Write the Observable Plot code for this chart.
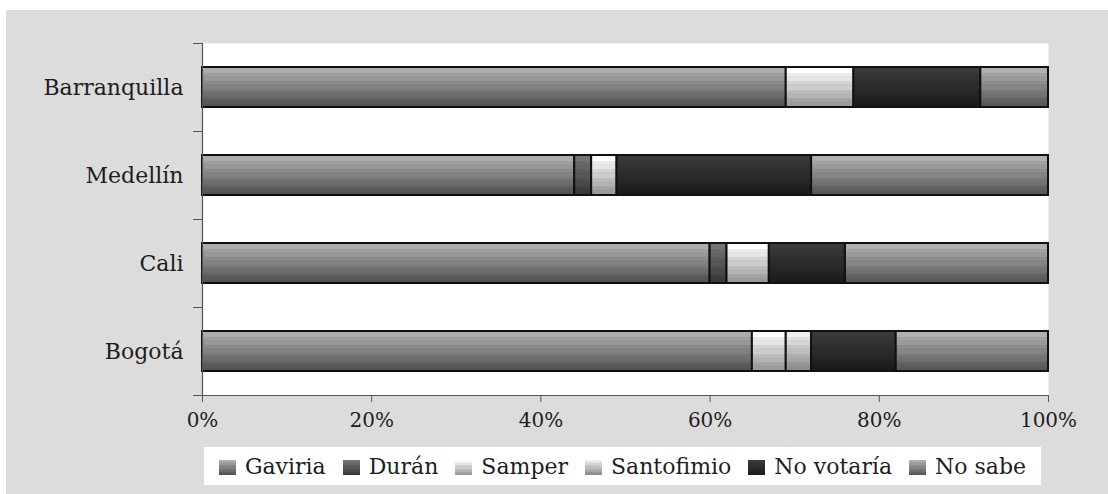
<!DOCTYPE html>
<html>
<head>
<meta charset="utf-8">
<script src="https://cdn.jsdelivr.net/npm/d3@7"></script>
<script src="https://cdn.jsdelivr.net/npm/@observablehq/plot@0.6"></script>
<style>
  body { margin: 0; background: #ffffff; font-family: "DejaVu Serif", serif; }
  #panel { position: absolute; left: 6px; top: 10px; width: 1102px; height: 484px; background: #dcdcdc; }
  #chart { position: absolute; left: 0; top: 0; }
  #legend {
    position: absolute; left: 198px; top: 437px; width: 837px; height: 38px;
    background: #ffffff; display: flex; align-items: center; justify-content: center;
    gap: 17px; font-size: 22px; color: #1e1e1e;
  }
  #legend .item { display: flex; align-items: center; gap: 9px; }
  #legend .sw { width: 17px; height: 15px; margin-top: 3px; }
</style>
</head>
<body>
<div id="panel">
  <div id="chart"></div>
  <div id="legend"></div>
</div>
<script>
// Voting intention by city (percent of respondents)
const cities = ["Barranquilla", "Medellín", "Cali", "Bogotá"];
const series = ["Gaviria", "Durán", "Samper", "Santofimio", "No votaría", "No sabe"];

const gaviria    = [69, 44, 60, 65];
const duran      = [0, 2, 2, 0];
const samper     = [8, 3, 5, 4];
const santofimio = [0, 0, 0, 3];
const noVotaria  = [15, 23, 9, 10];
const noSabe     = [8, 28, 24, 18];

const xTicks = [0, 20, 40, 60, 80, 100];

// Shaded fills, light at the top and dark at the bottom, one per series
const shades = [
  ["#adadad", "#505050"],
  ["#747474", "#363636"],
  ["#fbfbfb", "#949494"],
  ["#ececec", "#888888"],
  ["#3a3a3a", "#1b1b1b"],
  ["#b0b0b0", "#545454"]
];

function bandStops([top, bottom]) {
  const n = 14, mix = d3.interpolateRgb(top, bottom), out = [];
  for (let k = 0; k < n; k++) {
    const c = d3.color(mix(k / (n - 1)));
    const c2 = k % 3 === 1 ? c.brighter(0.12) : c;
    out.push([k / n, c2.formatHex()], [(k + 1) / n, c2.formatHex()]);
  }
  return out;
}

const columns = [gaviria, duran, samper, santofimio, noVotaria, noSabe];
const rows = [];
cities.forEach((city, i) => {
  series.forEach((party, j) => {
    const pct = columns[j][i];
    if (pct > 0) rows.push({city, party, pct});
  });
});

const last = cities[cities.length - 1];

const chart = Plot.plot({
  width: 1102,
  height: 436,
  marginLeft: 196,
  marginRight: 60,
  marginTop: 33,
  marginBottom: 51,
  style: {fontFamily: '"DejaVu Serif", serif', fontSize: "20px", color: "#1e1e1e", background: "transparent", overflow: "visible"},
  x: {domain: [0, 100], label: null},
  y: {domain: cities, padding: 0, label: null},
  color: {domain: series, range: series.map((s, i) => `url(#shade-${i})`)},
  marks: [
    Plot.frame({fill: "white", stroke: null}),
    Plot.barX(rows, Plot.stackX({
      x: "pct", y: "city", fill: "party",
      insetTop: 24, insetBottom: 24,
      stroke: "#111", strokeWidth: 2
    })),
    Plot.ruleX([0], {stroke: "#555", strokeWidth: 1.2}),
    Plot.ruleY([last], {dy: 44, stroke: "#555", strokeWidth: 1.2}),
    Plot.axisX({ticks: xTicks, tickFormat: d => d + "%", tickSize: 7, tickPadding: 10, stroke: "#555", fontSize: 20, label: null}),
    Plot.axisY({tickSize: 9, dy: -44, tickFormat: () => "", stroke: "#555", label: null}),
    Plot.axisY({ticks: [last], tickSize: 9, dy: 44, tickFormat: () => "", stroke: "#555", label: null}),
    Plot.axisY({tickSize: 0, tickPadding: 19, fontSize: 22, label: null})
  ]
});

// Gradient definitions used by the bar fills
const defs = d3.select(chart).insert("defs", ":first-child");
shades.forEach((pair, i) => {
  const g = defs.append("linearGradient")
    .attr("id", `shade-${i}`)
    .attr("x1", 0).attr("y1", 0).attr("x2", 0).attr("y2", 1);
  bandStops(pair).forEach(([o, c]) => g.append("stop").attr("offset", o).attr("stop-color", c));
});

document.getElementById("chart").appendChild(chart);

// Legend below the chart
const legend = d3.select("#legend");
series.forEach((s, i) => {
  const item = legend.append("div").attr("class", "item");
  const stops = bandStops(shades[i]).map(([o, c]) => `${c} ${(o * 100).toFixed(1)}%`).join(", ");
  item.append("div").attr("class", "sw").style("background", `linear-gradient(to bottom, ${stops})`);
  item.append("span").text(s);
});
</script>
</body>
</html>
